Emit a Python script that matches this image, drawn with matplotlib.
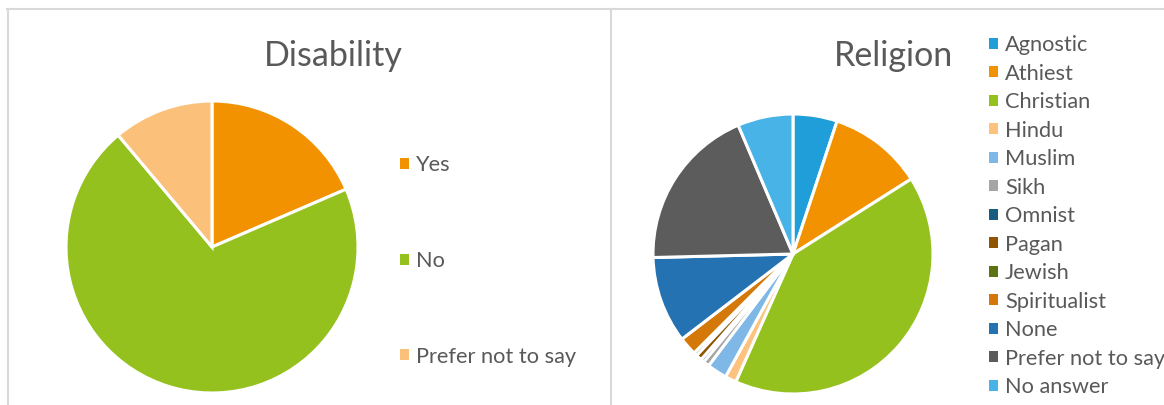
import matplotlib
matplotlib.use("Agg")
import matplotlib.pyplot as plt
from matplotlib.patches import Patch
from matplotlib.lines import Line2D

# ---------------- data ----------------
dis_labels = ["Yes", "No", "Prefer not to say"]
dis_values = [5, 19, 3]
dis_colors = ["#F39200", "#95C11F", "#FBC17A"]

rel_labels = ["Agnostic", "Athiest", "Christian", "Hindu", "Muslim", "Sikh",
              "Omnist", "Pagan", "Jewish", "Spiritualist", "None",
              "Prefer not to say", "No answer"]
rel_values = [5.1, 10.9, 40.7, 1.3, 2.3, 0.7, 0.4, 0.7, 0.4, 2.1, 10.0, 19.0, 6.4]
rel_colors = ["#1F9ED9", "#F39200", "#95C11F", "#FDC27D", "#7FB8E6", "#A5A5A5",
              "#185C80", "#8F5500", "#5B7314", "#D47909", "#2472B2",
              "#5C5C5C", "#47B3E6"]

W, H = 1164, 405
TXT = "#595959"
FONT = "Lato"
plt.rcParams["font.family"] = [FONT, "DejaVu Sans"]

fig = plt.figure(figsize=(W / 100, H / 100), dpi=100)


def fx(x):
    return x / W


def fy(y):
    return 1 - y / H


def px_axes(cx, cy, r):
    ax = fig.add_axes([(cx - r) / W, 1 - (cy + r) / H, 2 * r / W, 2 * r / H])
    return ax


# panel borders
bc = "#D9D9D9"
fig.add_artist(Line2D([fx(7), fx(1164)], [fy(9), fy(9)], color=bc, lw=1.5, transform=fig.transFigure))
fig.add_artist(Line2D([fx(7.5), fx(7.5)], [fy(9), fy(405)], color=bc, lw=1.5, transform=fig.transFigure))
fig.add_artist(Line2D([fx(610.5), fx(610.5)], [fy(9), fy(405)], color=bc, lw=1.5, transform=fig.transFigure))

# ---------------- Disability ----------------
ax1 = px_axes(212, 247, 146)
ax1.pie(dis_values, colors=dis_colors, startangle=90, counterclock=False,
        radius=1, wedgeprops=dict(edgecolor="white", linewidth=2.2))
ax1.set_xlim(-1.0, 1.0)
ax1.set_ylim(-1.0, 1.0)
ax1.axis("off")

fig.text(fx(333), fy(56), "Disability", ha="center", va="center",
         fontsize=24.5, color=TXT)

h1 = [Patch(facecolor=c, edgecolor="none") for c in dis_colors]
fig.legend(h1, dis_labels, loc="upper left", bbox_to_anchor=(fx(400), fy(155)),
           frameon=False, fontsize=15.7, labelcolor=TXT, borderpad=0,
           borderaxespad=0, handlelength=0.4, handleheight=0.4,
           handletextpad=0.33, labelspacing=3.48)

# ---------------- Religion ----------------
ax2 = px_axes(793, 254, 140)
ax2.pie(rel_values, colors=rel_colors, startangle=90, counterclock=False,
        radius=1, wedgeprops=dict(edgecolor="white", linewidth=2.2))
ax2.set_xlim(-1.0, 1.0)
ax2.set_ylim(-1.0, 1.0)
ax2.axis("off")

fig.text(fx(893), fy(56), "Religion", ha="center", va="center",
         fontsize=24.5, color=TXT)

h2 = [Patch(facecolor=c, edgecolor="none") for c in rel_colors]
fig.legend(h2, rel_labels, loc="upper left", bbox_to_anchor=(fx(989), fy(35)),
           frameon=False, fontsize=15.7, labelcolor=TXT, borderpad=0,
           borderaxespad=0, handlelength=0.4, handleheight=0.4,
           handletextpad=0.33, labelspacing=0.39)

fig.savefig("out.png", dpi=100)
